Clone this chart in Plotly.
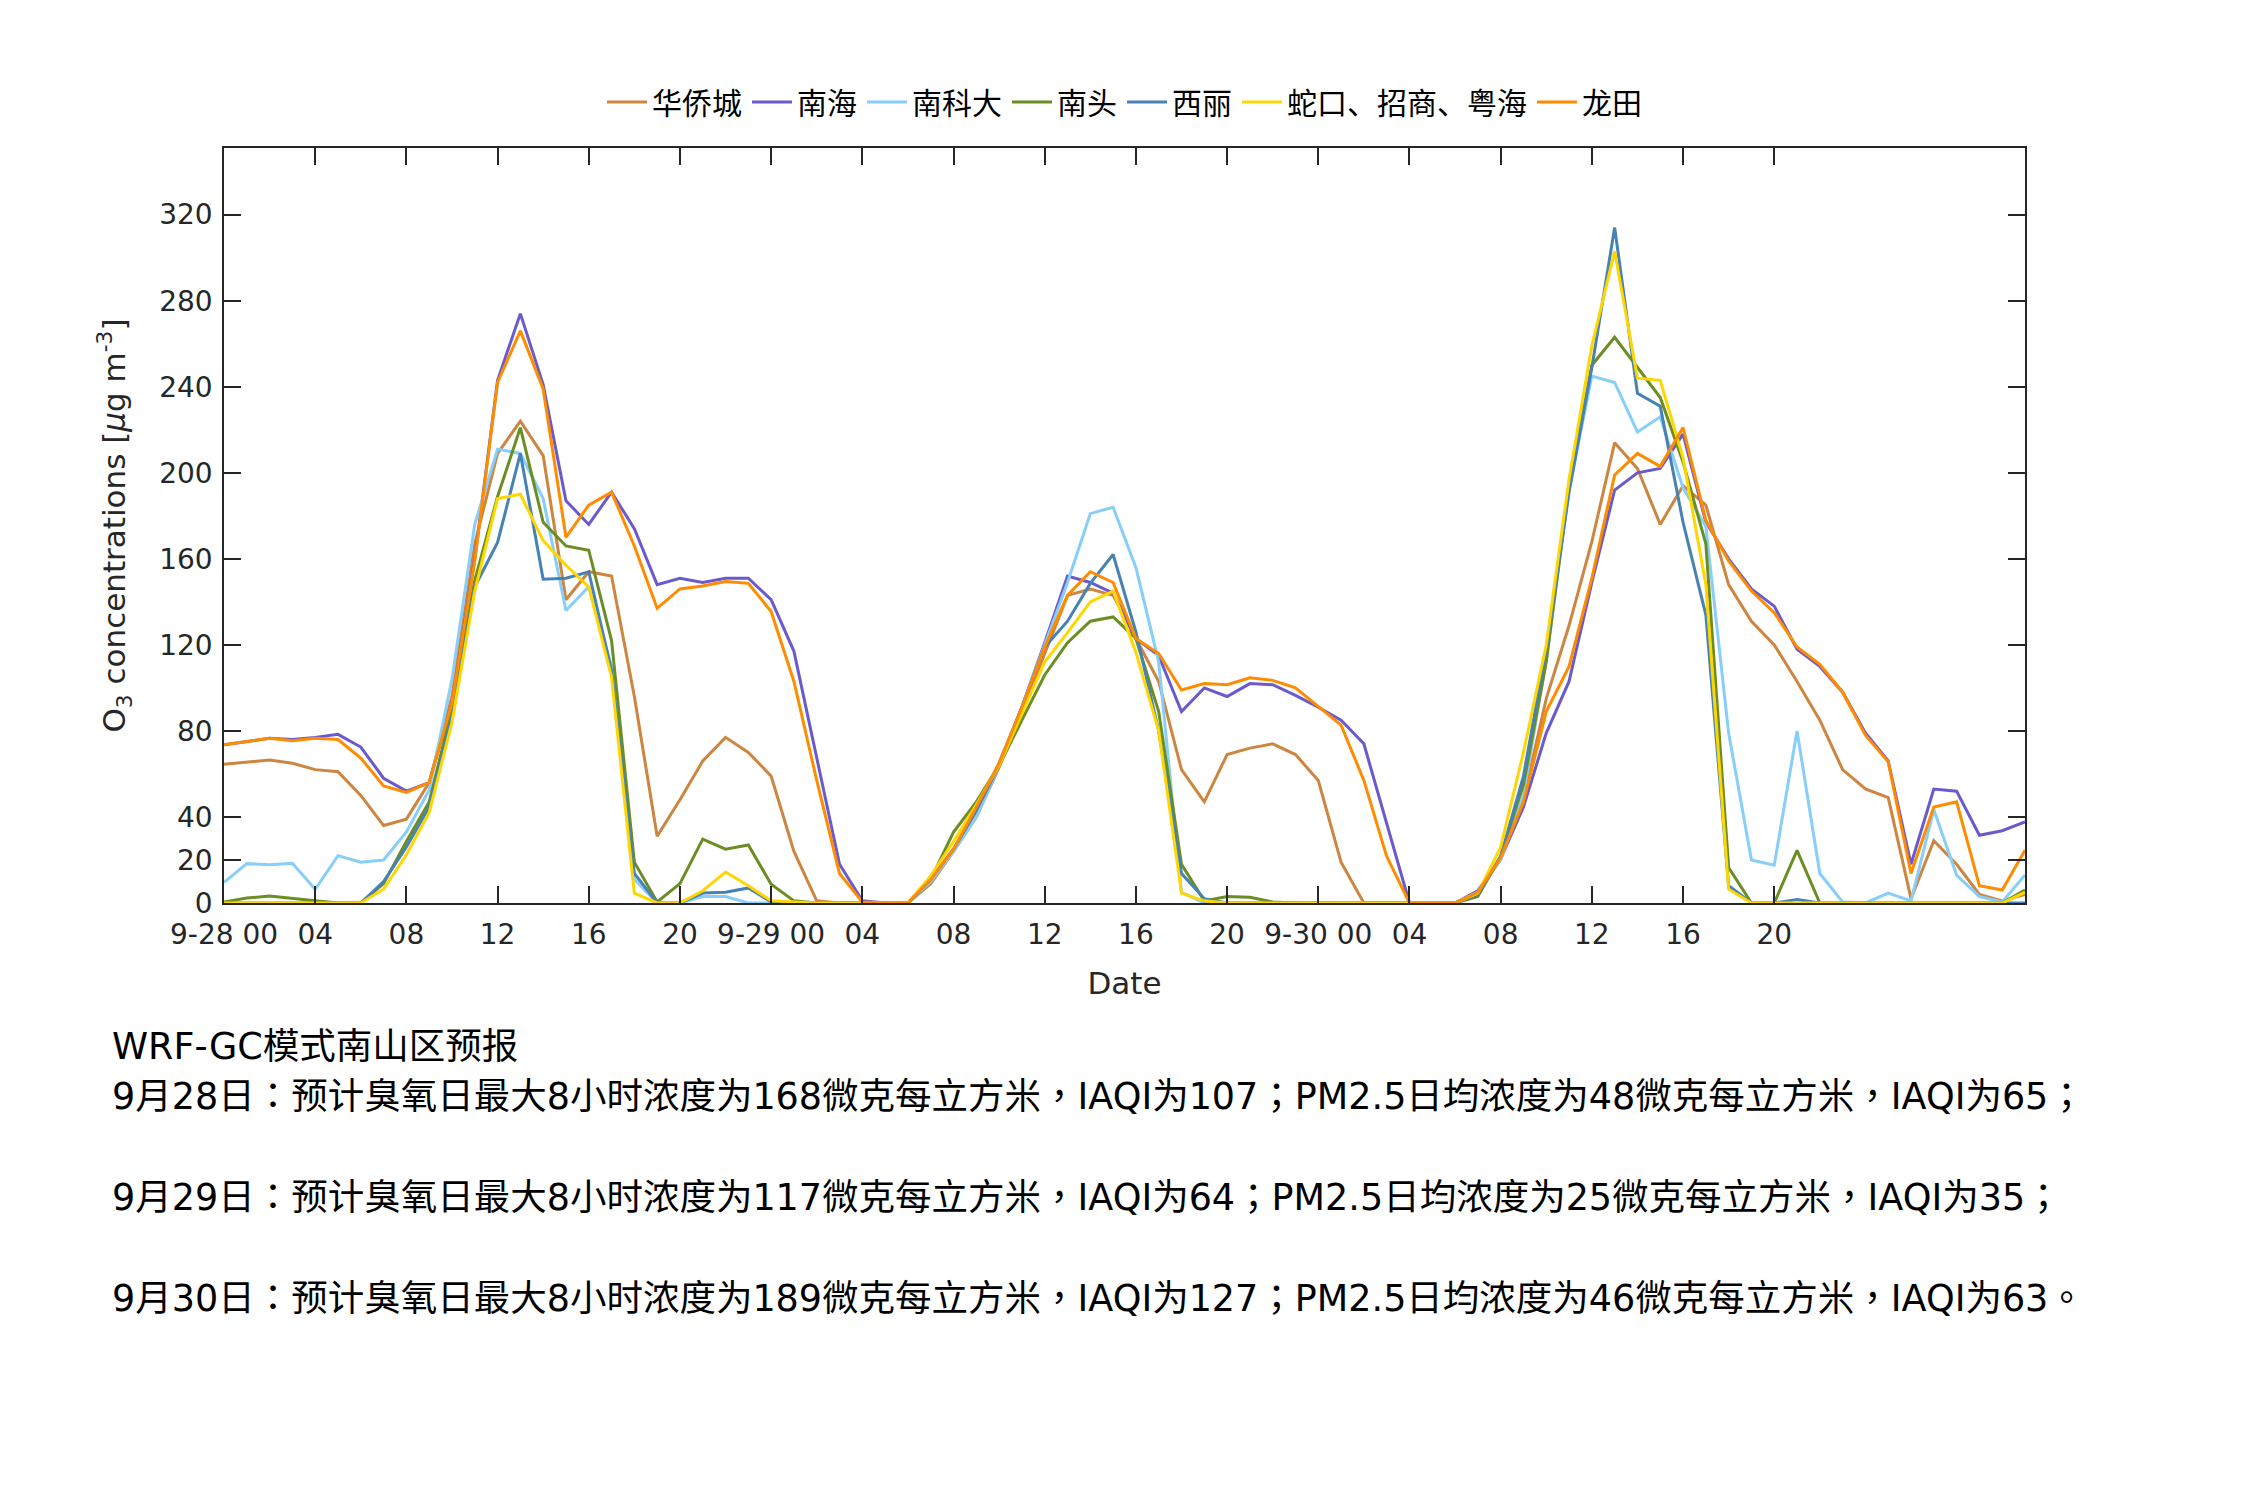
import plotly.graph_objects as go

hours = list(range(80))

huaqiaocheng = [64.5, 65.6, 66.5, 65, 62, 61, 50, 36, 39, 56,
                96, 167, 209, 224, 208, 141, 154, 152, 96, 31,
                48, 66, 77, 70, 59, 24, 1, 0, 0, 0,
                0, 9, 24, 40, 63, 89, 116, 143, 146, 143,
                123, 103, 62, 47, 69, 72, 74, 69, 57, 19,
                0, 0, 0, 0, 0, 5, 21, 48, 95, 129,
                168, 214, 202, 176, 194, 185, 148, 131, 120, 103,
                85, 62, 53, 49, 2, 29, 18, 4, 1, 4]

nanhai = [73.6, 75, 76.6, 76, 77, 78.4, 72.5, 58, 52, 56,
          93, 160, 243, 274, 241, 187, 176, 191, 174, 148,
          151, 149, 151, 151, 141, 117, 68, 18, 1, 0,
          0, 11, 25, 43, 65, 91, 121, 152, 149, 144,
          123, 115, 89, 100, 96, 102, 101.5, 96.5, 91, 85,
          74, 37, 0, 0, 0, 5.7, 20.6, 44.6, 79, 103,
          149, 192, 200, 202, 218, 177, 160, 146, 138, 118,
          110, 98, 79, 66, 18, 53, 52, 31.5, 33.6, 37.7]

nankeda = [9.6, 18.3, 17.8, 18.5, 6.4, 22, 19, 20, 33, 52.6,
           104, 176, 211, 209, 188, 136, 147, 110, 11, 0,
           0, 3, 3, 0, 0, 0, 0, 0, 0, 0,
           0, 10, 24, 40, 64, 91, 120, 149, 181, 184,
           156, 112, 5, 0, 0, 0, 0, 0, 0, 0,
           0, 0, 0, 0, 0, 5, 20, 50, 113, 192,
           245, 242, 219, 226, 193, 175, 79, 20, 17.6, 80,
           13.7, 0.5, 0, 4.6, 1, 43.4, 13, 3, 0.5, 13]

nantou = [0.5, 2.3, 3.2, 2, 1, 0, 0, 9, 28.6, 47,
          90, 150, 189, 221, 177, 166, 164, 122, 19, 0.5,
          9, 29.7, 25, 27, 8.7, 1, 0, 0, 0, 0,
          0, 11, 33, 47, 64, 85, 106, 121, 131, 133,
          123, 89, 18, 1, 3, 2.7, 0.5, 0, 0, 0,
          0, 0, 0, 0, 0, 3, 21.7, 55, 112, 194,
          250, 263, 249, 235, 205, 167, 16.5, 0, 0, 24.5,
          0, 0, 0, 0, 0, 0, 0, 0, 0, 6]

xili = [0, 0, 0, 0, 0, 0, 0, 10, 26, 44.6,
        87, 147, 167.6, 209, 150.5, 151, 154, 108, 13.7, 0,
        0, 4.6, 5, 7, 0.5, 0, 0, 0, 0, 0,
        0, 11, 25, 43, 64, 91, 119, 131, 148.6, 162,
        126, 80, 13.7, 2, 0, 0, 0, 0, 0, 0,
        0, 0, 0, 0, 0, 4, 21.7, 59, 118, 191,
        249, 314, 237, 231, 177, 134, 8, 0, 0, 1.6,
        0, 0, 0, 0, 0, 0, 0, 0, 0, 0]

shekou = [0, 0, 0, 0, 0, 0, 0, 6.4, 22.4, 42,
          84, 145, 188, 190, 168.5, 157, 147, 105, 4.6, 0,
          0, 5.7, 14.4, 8, 1, 0.5, 0, 0, 0, 0,
          0, 12.6, 28.6, 45.7, 64, 88, 112, 125.7, 140, 145,
          116.6, 80, 4.6, 1, 0, 0, 0, 0, 0, 0,
          0, 0, 0, 0, 0, 4.6, 26, 70, 120, 197,
          259, 303, 244, 243, 207, 148, 6.4, 0, 0, 0,
          0, 0, 0, 0, 0, 0, 0, 0, 0, 5]

longtian = [73.6, 75, 76.6, 75.4, 76.6, 76, 67.4, 54.4, 51.4, 56,
            93, 159, 242, 266, 239, 170, 185, 191, 166, 137,
            146, 147.4, 149.5, 148.6, 135.5, 103, 57, 13.7, 0.5, 0,
            0, 11, 25, 44.6, 65, 91, 119, 143, 154, 149,
            123, 116, 99, 102, 101.5, 104.7, 103.5, 100, 91.4, 82.7,
            57, 21.7, 0, 0, 0, 5, 21, 47, 89, 110,
            151, 199, 209, 203, 221, 178, 159, 145, 135, 119,
            111, 98, 78, 65.6, 13.7, 44.6, 47, 8, 6, 24.5]

series_names = ["华侨城", "南海", "南科大", "南头", "西丽", "蛇口、招商、粤海", "龙田"]
series_values = [huaqiaocheng, nanhai, nankeda, nantou, xili, shekou, longtian]
series_colors = ["#CD853F", "#6A5ACD", "#87CEFA", "#6B8E23", "#4682B4", "#FFD700", "#FF8C00"]

x_tickvals = list(range(0, 69, 4))
x_ticktext = ["9-28 00", "04", "08", "12", "16", "20",
              "9-29 00", "04", "08", "12", "16", "20",
              "9-30 00", "04", "08", "12", "16", "20"]
y_tickvals = [0, 20, 40, 80, 120, 160, 200, 240, 280, 320]

text_lines = [
    "WRF-GC模式南山区预报",
    "9月28日：预计臭氧日最大8小时浓度为168微克每立方米，IAQI为107；PM2.5日均浓度为48微克每立方米，IAQI为65；",
    "9月29日：预计臭氧日最大8小时浓度为117微克每立方米，IAQI为64；PM2.5日均浓度为25微克每立方米，IAQI为35；",
    "9月30日：预计臭氧日最大8小时浓度为189微克每立方米，IAQI为127；PM2.5日均浓度为46微克每立方米，IAQI为63。",
]
text_y_px = [1046, 1096, 1197, 1298]

W, H = 2250, 1500
L, R, T, B = 224, 2025, 148, 903

fig = go.Figure()
for name, vals, col in zip(series_names, series_values, series_colors):
    fig.add_trace(go.Scatter(x=hours, y=vals, mode="lines", name=name,
                             line=dict(color=col, width=3)))

axis_col = "#262626"
tickfont = dict(family="DejaVu Sans, Noto Sans CJK SC", size=28, color=axis_col)

fig.update_xaxes(range=[0, 79], tickvals=x_tickvals, ticktext=x_ticktext,
                 ticks="inside", ticklen=17, tickwidth=1.5, tickcolor=axis_col,
                 showline=True, linecolor=axis_col, linewidth=1.5, mirror="allticks",
                 showgrid=False, zeroline=False, tickfont=tickfont,
                 ticklabelstandoff=6,
                 title=dict(text="Date", font=dict(family="DejaVu Sans", size=31, color=axis_col),
                            standoff=22))
fig.update_yaxes(range=[0, 351], tickvals=y_tickvals,
                 ticks="inside", ticklen=17, tickwidth=1.5, tickcolor=axis_col,
                 showline=True, linecolor=axis_col, linewidth=1.5, mirror="allticks",
                 showgrid=False, zeroline=False, tickfont=tickfont,
                 ticklabelstandoff=4,
                 title=dict(text="O<sub>3</sub> concentrations [<i>μ</i>g m<sup>-3</sup>]",
                            font=dict(family="DejaVu Sans", size=31, color=axis_col),
                            standoff=24))

annotations = []
for txt, py in zip(text_lines, text_y_px):
    annotations.append(dict(text=txt, xref="paper", yref="paper",
                            x=(110 - L) / (R - L), y=(B - py) / (B - T),
                            xanchor="left", yanchor="middle", showarrow=False,
                            font=dict(family="DejaVu Sans, Noto Sans CJK TC", size=36.5, color="#000000")))

fig.update_layout(
    width=W, height=H,
    margin=dict(l=L, r=W - R, t=T, b=H - B, autoexpand=False),
    paper_bgcolor="white", plot_bgcolor="white",
    legend=dict(orientation="h", x=0.5, xanchor="center", y=(B - 102) / (B - T), yanchor="middle",
                font=dict(family="Noto Sans CJK SC", size=30, color="#000000"),
                bgcolor="rgba(0,0,0,0)", itemwidth=40),
    annotations=annotations,
    showlegend=True,
)

fig.write_html("out.html")
